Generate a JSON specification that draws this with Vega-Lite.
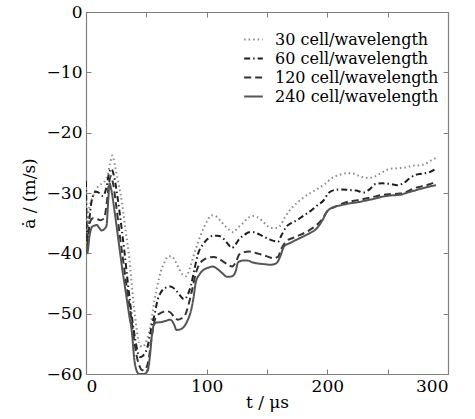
{
  "$schema": "https://vega.github.io/schema/vega-lite/v6.json",
  "width": 362,
  "height": 362,
  "autosize": {"type": "none"},
  "padding": {"left": 86, "top": 12, "right": 27, "bottom": 45},
  "background": "white",
  "config": {
    "font": "DejaVu Serif",
    "view": {"stroke": null},
    "axis": {
      "grid": false,
      "domainColor": "#808080",
      "domainWidth": 1.2,
      "tickColor": "#808080",
      "tickWidth": 1,
      "tickSize": -5,
      "labelFont": "DejaVu Serif",
      "labelFontSize": 17,
      "labelColor": "#000000",
      "titleFont": "DejaVu Serif",
      "titleFontSize": 17,
      "titleFontWeight": "normal",
      "titleColor": "#000000"
    },
    "legend": {"labelFont": "DejaVu Serif"}
  },
  "data": {
    "values": [
      {"t":0,"v":-30,"s":"30 cell/wavelength"},{"t":1,"v":-38,"s":"30 cell/wavelength"},{"t":2,"v":-33.5,"s":"30 cell/wavelength"},{"t":4,"v":-31.5,"s":"30 cell/wavelength"},{"t":6,"v":-30.5,"s":"30 cell/wavelength"},{"t":9,"v":-29.2,"s":"30 cell/wavelength"},{"t":12,"v":-28.6,"s":"30 cell/wavelength"},{"t":15,"v":-28.2,"s":"30 cell/wavelength"},{"t":18,"v":-27,"s":"30 cell/wavelength"},{"t":20,"v":-25,"s":"30 cell/wavelength"},{"t":22,"v":-23.8,"s":"30 cell/wavelength"},{"t":24,"v":-25.5,"s":"30 cell/wavelength"},{"t":27,"v":-28.5,"s":"30 cell/wavelength"},{"t":30,"v":-31.8,"s":"30 cell/wavelength"},{"t":33,"v":-36.5,"s":"30 cell/wavelength"},{"t":36,"v":-41,"s":"30 cell/wavelength"},{"t":39,"v":-47.5,"s":"30 cell/wavelength"},{"t":41,"v":-51,"s":"30 cell/wavelength"},{"t":43,"v":-54,"s":"30 cell/wavelength"},{"t":45,"v":-55.3,"s":"30 cell/wavelength"},{"t":47,"v":-55.5,"s":"30 cell/wavelength"},{"t":49,"v":-55,"s":"30 cell/wavelength"},{"t":51,"v":-54,"s":"30 cell/wavelength"},{"t":53,"v":-52.5,"s":"30 cell/wavelength"},{"t":55,"v":-50,"s":"30 cell/wavelength"},{"t":57,"v":-47.5,"s":"30 cell/wavelength"},{"t":59,"v":-45.5,"s":"30 cell/wavelength"},{"t":62,"v":-43,"s":"30 cell/wavelength"},{"t":65,"v":-41.5,"s":"30 cell/wavelength"},{"t":68,"v":-40.5,"s":"30 cell/wavelength"},{"t":71,"v":-40.5,"s":"30 cell/wavelength"},{"t":74,"v":-41.3,"s":"30 cell/wavelength"},{"t":77,"v":-42.5,"s":"30 cell/wavelength"},{"t":80,"v":-43.5,"s":"30 cell/wavelength"},{"t":83,"v":-43.8,"s":"30 cell/wavelength"},{"t":86,"v":-42.5,"s":"30 cell/wavelength"},{"t":89,"v":-40.5,"s":"30 cell/wavelength"},{"t":92,"v":-38.7,"s":"30 cell/wavelength"},{"t":96,"v":-36.5,"s":"30 cell/wavelength"},{"t":100,"v":-34.8,"s":"30 cell/wavelength"},{"t":104,"v":-33.7,"s":"30 cell/wavelength"},{"t":107,"v":-33.8,"s":"30 cell/wavelength"},{"t":110,"v":-34.3,"s":"30 cell/wavelength"},{"t":114,"v":-35.2,"s":"30 cell/wavelength"},{"t":118,"v":-36,"s":"30 cell/wavelength"},{"t":122,"v":-36.5,"s":"30 cell/wavelength"},{"t":126,"v":-35.7,"s":"30 cell/wavelength"},{"t":130,"v":-35,"s":"30 cell/wavelength"},{"t":134,"v":-34.2,"s":"30 cell/wavelength"},{"t":138,"v":-33.8,"s":"30 cell/wavelength"},{"t":142,"v":-34,"s":"30 cell/wavelength"},{"t":146,"v":-34.6,"s":"30 cell/wavelength"},{"t":150,"v":-35.4,"s":"30 cell/wavelength"},{"t":154,"v":-35.8,"s":"30 cell/wavelength"},{"t":158,"v":-35.8,"s":"30 cell/wavelength"},{"t":161,"v":-35.4,"s":"30 cell/wavelength"},{"t":165,"v":-34,"s":"30 cell/wavelength"},{"t":170,"v":-32.6,"s":"30 cell/wavelength"},{"t":175,"v":-31.6,"s":"30 cell/wavelength"},{"t":180,"v":-30.8,"s":"30 cell/wavelength"},{"t":186,"v":-30,"s":"30 cell/wavelength"},{"t":192,"v":-29.3,"s":"30 cell/wavelength"},{"t":198,"v":-28.5,"s":"30 cell/wavelength"},{"t":204,"v":-27.5,"s":"30 cell/wavelength"},{"t":210,"v":-27,"s":"30 cell/wavelength"},{"t":216,"v":-26.7,"s":"30 cell/wavelength"},{"t":222,"v":-26.8,"s":"30 cell/wavelength"},{"t":228,"v":-27.3,"s":"30 cell/wavelength"},{"t":234,"v":-27.5,"s":"30 cell/wavelength"},{"t":240,"v":-27.2,"s":"30 cell/wavelength"},{"t":246,"v":-26.5,"s":"30 cell/wavelength"},{"t":252,"v":-26,"s":"30 cell/wavelength"},{"t":258,"v":-25.9,"s":"30 cell/wavelength"},{"t":264,"v":-25.8,"s":"30 cell/wavelength"},{"t":270,"v":-25.5,"s":"30 cell/wavelength"},{"t":276,"v":-25.4,"s":"30 cell/wavelength"},{"t":282,"v":-25.1,"s":"30 cell/wavelength"},{"t":286,"v":-24.6,"s":"30 cell/wavelength"},{"t":290,"v":-24.2,"s":"30 cell/wavelength"},

      {"t":0,"v":-28,"s":"60 cell/wavelength"},{"t":1,"v":-39,"s":"60 cell/wavelength"},{"t":3,"v":-34,"s":"60 cell/wavelength"},{"t":5,"v":-31,"s":"60 cell/wavelength"},{"t":8,"v":-29.8,"s":"60 cell/wavelength"},{"t":11,"v":-30,"s":"60 cell/wavelength"},{"t":14,"v":-30.5,"s":"60 cell/wavelength"},{"t":17,"v":-29,"s":"60 cell/wavelength"},{"t":19,"v":-26.8,"s":"60 cell/wavelength"},{"t":21,"v":-26,"s":"60 cell/wavelength"},{"t":23,"v":-27,"s":"60 cell/wavelength"},{"t":26,"v":-30.5,"s":"60 cell/wavelength"},{"t":29,"v":-35,"s":"60 cell/wavelength"},{"t":32,"v":-40,"s":"60 cell/wavelength"},{"t":35,"v":-45.5,"s":"60 cell/wavelength"},{"t":38,"v":-50.5,"s":"60 cell/wavelength"},{"t":41,"v":-54.5,"s":"60 cell/wavelength"},{"t":43,"v":-56.5,"s":"60 cell/wavelength"},{"t":45,"v":-57.2,"s":"60 cell/wavelength"},{"t":47,"v":-57,"s":"60 cell/wavelength"},{"t":49,"v":-56.5,"s":"60 cell/wavelength"},{"t":51,"v":-55.5,"s":"60 cell/wavelength"},{"t":53,"v":-53.5,"s":"60 cell/wavelength"},{"t":55,"v":-51.5,"s":"60 cell/wavelength"},{"t":57,"v":-50,"s":"60 cell/wavelength"},{"t":59,"v":-48,"s":"60 cell/wavelength"},{"t":62,"v":-46.5,"s":"60 cell/wavelength"},{"t":66,"v":-45.7,"s":"60 cell/wavelength"},{"t":70,"v":-45.5,"s":"60 cell/wavelength"},{"t":74,"v":-46,"s":"60 cell/wavelength"},{"t":78,"v":-47,"s":"60 cell/wavelength"},{"t":81,"v":-47.6,"s":"60 cell/wavelength"},{"t":84,"v":-47,"s":"60 cell/wavelength"},{"t":87,"v":-45.3,"s":"60 cell/wavelength"},{"t":90,"v":-42.5,"s":"60 cell/wavelength"},{"t":93,"v":-40,"s":"60 cell/wavelength"},{"t":97,"v":-38.5,"s":"60 cell/wavelength"},{"t":101,"v":-37.6,"s":"60 cell/wavelength"},{"t":105,"v":-37.1,"s":"60 cell/wavelength"},{"t":109,"v":-37.1,"s":"60 cell/wavelength"},{"t":113,"v":-37.4,"s":"60 cell/wavelength"},{"t":117,"v":-38.3,"s":"60 cell/wavelength"},{"t":121,"v":-39.1,"s":"60 cell/wavelength"},{"t":124,"v":-38.5,"s":"60 cell/wavelength"},{"t":127,"v":-37.6,"s":"60 cell/wavelength"},{"t":131,"v":-37,"s":"60 cell/wavelength"},{"t":135,"v":-36.5,"s":"60 cell/wavelength"},{"t":139,"v":-36.5,"s":"60 cell/wavelength"},{"t":143,"v":-36.8,"s":"60 cell/wavelength"},{"t":147,"v":-37.2,"s":"60 cell/wavelength"},{"t":151,"v":-37.6,"s":"60 cell/wavelength"},{"t":155,"v":-37.9,"s":"60 cell/wavelength"},{"t":159,"v":-38.1,"s":"60 cell/wavelength"},{"t":162,"v":-37,"s":"60 cell/wavelength"},{"t":166,"v":-35.6,"s":"60 cell/wavelength"},{"t":170,"v":-35,"s":"60 cell/wavelength"},{"t":175,"v":-34.5,"s":"60 cell/wavelength"},{"t":180,"v":-33.8,"s":"60 cell/wavelength"},{"t":186,"v":-33,"s":"60 cell/wavelength"},{"t":192,"v":-32,"s":"60 cell/wavelength"},{"t":197,"v":-31.2,"s":"60 cell/wavelength"},{"t":201,"v":-30,"s":"60 cell/wavelength"},{"t":206,"v":-29.5,"s":"60 cell/wavelength"},{"t":212,"v":-29.4,"s":"60 cell/wavelength"},{"t":218,"v":-29.5,"s":"60 cell/wavelength"},{"t":224,"v":-29.6,"s":"60 cell/wavelength"},{"t":230,"v":-29.9,"s":"60 cell/wavelength"},{"t":235,"v":-29.4,"s":"60 cell/wavelength"},{"t":240,"v":-28.5,"s":"60 cell/wavelength"},{"t":246,"v":-28.4,"s":"60 cell/wavelength"},{"t":252,"v":-28.5,"s":"60 cell/wavelength"},{"t":258,"v":-28.7,"s":"60 cell/wavelength"},{"t":263,"v":-28.4,"s":"60 cell/wavelength"},{"t":268,"v":-27.6,"s":"60 cell/wavelength"},{"t":273,"v":-27,"s":"60 cell/wavelength"},{"t":278,"v":-26.8,"s":"60 cell/wavelength"},{"t":284,"v":-26.6,"s":"60 cell/wavelength"},{"t":290,"v":-26,"s":"60 cell/wavelength"},

      {"t":0,"v":-33,"s":"120 cell/wavelength"},{"t":1,"v":-39.5,"s":"120 cell/wavelength"},{"t":3,"v":-35,"s":"120 cell/wavelength"},{"t":6,"v":-34.2,"s":"120 cell/wavelength"},{"t":9,"v":-34.3,"s":"120 cell/wavelength"},{"t":12,"v":-34.5,"s":"120 cell/wavelength"},{"t":15,"v":-34.2,"s":"120 cell/wavelength"},{"t":17,"v":-32,"s":"120 cell/wavelength"},{"t":19,"v":-28.5,"s":"120 cell/wavelength"},{"t":20.5,"v":-27.2,"s":"120 cell/wavelength"},{"t":22,"v":-28,"s":"120 cell/wavelength"},{"t":25,"v":-32,"s":"120 cell/wavelength"},{"t":28,"v":-37,"s":"120 cell/wavelength"},{"t":31,"v":-41.5,"s":"120 cell/wavelength"},{"t":34,"v":-46,"s":"120 cell/wavelength"},{"t":37,"v":-50,"s":"120 cell/wavelength"},{"t":40,"v":-54.5,"s":"120 cell/wavelength"},{"t":42,"v":-57,"s":"120 cell/wavelength"},{"t":44,"v":-58.5,"s":"120 cell/wavelength"},{"t":46,"v":-59.3,"s":"120 cell/wavelength"},{"t":48,"v":-59.4,"s":"120 cell/wavelength"},{"t":50,"v":-59,"s":"120 cell/wavelength"},{"t":52,"v":-57.5,"s":"120 cell/wavelength"},{"t":54,"v":-54.5,"s":"120 cell/wavelength"},{"t":56,"v":-52,"s":"120 cell/wavelength"},{"t":58,"v":-50.5,"s":"120 cell/wavelength"},{"t":61,"v":-50,"s":"120 cell/wavelength"},{"t":64,"v":-49.7,"s":"120 cell/wavelength"},{"t":67,"v":-49.6,"s":"120 cell/wavelength"},{"t":70,"v":-49.8,"s":"120 cell/wavelength"},{"t":73,"v":-50.5,"s":"120 cell/wavelength"},{"t":76,"v":-51,"s":"120 cell/wavelength"},{"t":79,"v":-50.8,"s":"120 cell/wavelength"},{"t":82,"v":-50.3,"s":"120 cell/wavelength"},{"t":85,"v":-48.5,"s":"120 cell/wavelength"},{"t":88,"v":-46,"s":"120 cell/wavelength"},{"t":91,"v":-43.3,"s":"120 cell/wavelength"},{"t":94,"v":-41.8,"s":"120 cell/wavelength"},{"t":98,"v":-41,"s":"120 cell/wavelength"},{"t":102,"v":-40.7,"s":"120 cell/wavelength"},{"t":106,"v":-40.6,"s":"120 cell/wavelength"},{"t":110,"v":-40.9,"s":"120 cell/wavelength"},{"t":114,"v":-41.4,"s":"120 cell/wavelength"},{"t":118,"v":-41.9,"s":"120 cell/wavelength"},{"t":121,"v":-42.2,"s":"120 cell/wavelength"},{"t":124,"v":-41.5,"s":"120 cell/wavelength"},{"t":127,"v":-40.2,"s":"120 cell/wavelength"},{"t":131,"v":-39.8,"s":"120 cell/wavelength"},{"t":135,"v":-39.7,"s":"120 cell/wavelength"},{"t":140,"v":-39.9,"s":"120 cell/wavelength"},{"t":145,"v":-40.2,"s":"120 cell/wavelength"},{"t":150,"v":-40.5,"s":"120 cell/wavelength"},{"t":155,"v":-40.8,"s":"120 cell/wavelength"},{"t":159,"v":-40.6,"s":"120 cell/wavelength"},{"t":162,"v":-39.2,"s":"120 cell/wavelength"},{"t":166,"v":-38,"s":"120 cell/wavelength"},{"t":172,"v":-37.4,"s":"120 cell/wavelength"},{"t":178,"v":-36.9,"s":"120 cell/wavelength"},{"t":184,"v":-36.3,"s":"120 cell/wavelength"},{"t":190,"v":-35.5,"s":"120 cell/wavelength"},{"t":196,"v":-34.3,"s":"120 cell/wavelength"},{"t":200,"v":-33,"s":"120 cell/wavelength"},{"t":206,"v":-32.3,"s":"120 cell/wavelength"},{"t":212,"v":-31.8,"s":"120 cell/wavelength"},{"t":218,"v":-31.4,"s":"120 cell/wavelength"},{"t":225,"v":-31.2,"s":"120 cell/wavelength"},{"t":232,"v":-30.9,"s":"120 cell/wavelength"},{"t":239,"v":-30.6,"s":"120 cell/wavelength"},{"t":246,"v":-30.3,"s":"120 cell/wavelength"},{"t":253,"v":-30.2,"s":"120 cell/wavelength"},{"t":260,"v":-30.1,"s":"120 cell/wavelength"},{"t":266,"v":-29.8,"s":"120 cell/wavelength"},{"t":272,"v":-29.2,"s":"120 cell/wavelength"},{"t":278,"v":-28.9,"s":"120 cell/wavelength"},{"t":284,"v":-28.6,"s":"120 cell/wavelength"},{"t":290,"v":-28.1,"s":"120 cell/wavelength"},

      {"t":0,"v":-38.5,"s":"240 cell/wavelength"},{"t":1,"v":-40,"s":"240 cell/wavelength"},{"t":3,"v":-37,"s":"240 cell/wavelength"},{"t":5,"v":-35.6,"s":"240 cell/wavelength"},{"t":7,"v":-35.4,"s":"240 cell/wavelength"},{"t":9,"v":-35.3,"s":"240 cell/wavelength"},{"t":11,"v":-35.8,"s":"240 cell/wavelength"},{"t":13,"v":-36.2,"s":"240 cell/wavelength"},{"t":15,"v":-36,"s":"240 cell/wavelength"},{"t":17,"v":-35.4,"s":"240 cell/wavelength"},{"t":18.5,"v":-31,"s":"240 cell/wavelength"},{"t":19.5,"v":-28.4,"s":"240 cell/wavelength"},{"t":21,"v":-29.5,"s":"240 cell/wavelength"},{"t":24,"v":-33.5,"s":"240 cell/wavelength"},{"t":27,"v":-38,"s":"240 cell/wavelength"},{"t":30,"v":-42.5,"s":"240 cell/wavelength"},{"t":33,"v":-46.5,"s":"240 cell/wavelength"},{"t":36,"v":-50.5,"s":"240 cell/wavelength"},{"t":38,"v":-53,"s":"240 cell/wavelength"},{"t":40,"v":-57.5,"s":"240 cell/wavelength"},{"t":42,"v":-59.5,"s":"240 cell/wavelength"},{"t":44,"v":-60,"s":"240 cell/wavelength"},{"t":48,"v":-60,"s":"240 cell/wavelength"},{"t":51,"v":-59.5,"s":"240 cell/wavelength"},{"t":53,"v":-57,"s":"240 cell/wavelength"},{"t":54.5,"v":-53.8,"s":"240 cell/wavelength"},{"t":56,"v":-52,"s":"240 cell/wavelength"},{"t":58,"v":-51.5,"s":"240 cell/wavelength"},{"t":62,"v":-51.4,"s":"240 cell/wavelength"},{"t":66,"v":-51.2,"s":"240 cell/wavelength"},{"t":70,"v":-51,"s":"240 cell/wavelength"},{"t":73,"v":-51.8,"s":"240 cell/wavelength"},{"t":75,"v":-52.7,"s":"240 cell/wavelength"},{"t":78,"v":-52.6,"s":"240 cell/wavelength"},{"t":81,"v":-52.2,"s":"240 cell/wavelength"},{"t":84,"v":-51.2,"s":"240 cell/wavelength"},{"t":87,"v":-49.5,"s":"240 cell/wavelength"},{"t":89,"v":-47.5,"s":"240 cell/wavelength"},{"t":91,"v":-44.8,"s":"240 cell/wavelength"},{"t":94,"v":-43.5,"s":"240 cell/wavelength"},{"t":97,"v":-42.8,"s":"240 cell/wavelength"},{"t":101,"v":-42.4,"s":"240 cell/wavelength"},{"t":105,"v":-42.2,"s":"240 cell/wavelength"},{"t":109,"v":-42.6,"s":"240 cell/wavelength"},{"t":113,"v":-43.3,"s":"240 cell/wavelength"},{"t":117,"v":-43.9,"s":"240 cell/wavelength"},{"t":121,"v":-43.8,"s":"240 cell/wavelength"},{"t":124,"v":-43,"s":"240 cell/wavelength"},{"t":126,"v":-41.5,"s":"240 cell/wavelength"},{"t":130,"v":-41.2,"s":"240 cell/wavelength"},{"t":134,"v":-41.2,"s":"240 cell/wavelength"},{"t":138,"v":-41.5,"s":"240 cell/wavelength"},{"t":143,"v":-41.7,"s":"240 cell/wavelength"},{"t":148,"v":-41.8,"s":"240 cell/wavelength"},{"t":153,"v":-41.9,"s":"240 cell/wavelength"},{"t":158,"v":-41.6,"s":"240 cell/wavelength"},{"t":161,"v":-40.5,"s":"240 cell/wavelength"},{"t":164,"v":-38.9,"s":"240 cell/wavelength"},{"t":170,"v":-38.2,"s":"240 cell/wavelength"},{"t":177,"v":-37.5,"s":"240 cell/wavelength"},{"t":184,"v":-36.8,"s":"240 cell/wavelength"},{"t":191,"v":-35.9,"s":"240 cell/wavelength"},{"t":196,"v":-34.5,"s":"240 cell/wavelength"},{"t":200,"v":-33,"s":"240 cell/wavelength"},{"t":206,"v":-32.3,"s":"240 cell/wavelength"},{"t":212,"v":-32,"s":"240 cell/wavelength"},{"t":219,"v":-31.7,"s":"240 cell/wavelength"},{"t":226,"v":-31.5,"s":"240 cell/wavelength"},{"t":233,"v":-31.2,"s":"240 cell/wavelength"},{"t":240,"v":-30.9,"s":"240 cell/wavelength"},{"t":246,"v":-30.6,"s":"240 cell/wavelength"},{"t":253,"v":-30.4,"s":"240 cell/wavelength"},{"t":260,"v":-30.3,"s":"240 cell/wavelength"},{"t":267,"v":-29.9,"s":"240 cell/wavelength"},{"t":274,"v":-29.5,"s":"240 cell/wavelength"},{"t":281,"v":-29.1,"s":"240 cell/wavelength"},{"t":290,"v":-28.7,"s":"240 cell/wavelength"}
    ]
  },
  "layer": [
    {
      "mark": {"type": "line", "clip": true, "strokeWidth": 2, "interpolate": "monotone"},
      "encoding": {
        "x": {
          "field": "t", "type": "quantitative",
          "scale": {"domain": [0, 300], "nice": false},
          "axis": {
            "orient": "bottom",
            "values": [0, 50, 100, 150, 200, 250, 300],
            "labelExpr": "datum.value % 100 == 0 ? datum.label : ''",
            "labelPadding": 9,
            "title": "t / μs",
            "titlePadding": 0
          }
        },
        "y": {
          "field": "v", "type": "quantitative",
          "scale": {"domain": [-60, 0], "nice": false, "zero": false},
          "axis": {
            "orient": "left",
            "values": [-60, -50, -40, -30, -20, -10, 0],
            "labelPadding": 9,
            "title": "ȧ / (m/s)",
            "titlePadding": 8
          }
        },
        "color": {
          "field": "s", "type": "nominal",
          "scale": {
            "domain": ["30 cell/wavelength", "60 cell/wavelength", "120 cell/wavelength", "240 cell/wavelength"],
            "range": ["#8a8a8a", "#1e1e1e", "#333333", "#555555"]
          },
          "legend": {
            "title": null,
            "orient": "none",
            "legendX": 157,
            "legendY": 17,
            "symbolType": "stroke",
            "symbolSize": 350,
            "symbolStrokeWidth": 2,
            "labelFont": "DejaVu Serif",
            "labelFontSize": 16,
            "labelColor": "#000000",
            "rowPadding": 0,
            "labelOffset": 11,
            "labelLimit": 300
          }
        },
        "strokeDash": {
          "field": "s", "type": "nominal",
          "scale": {
            "domain": ["30 cell/wavelength", "60 cell/wavelength", "120 cell/wavelength", "240 cell/wavelength"],
            "range": [[1.5, 3], [6, 3, 1.5, 3], [7, 4], [1, 0]]
          },
          "legend": {
            "title": null,
            "orient": "none",
            "legendX": 157,
            "legendY": 17,
            "symbolType": "stroke",
            "symbolSize": 350,
            "symbolStrokeWidth": 2,
            "labelFont": "DejaVu Serif",
            "labelFontSize": 16,
            "labelColor": "#000000",
            "rowPadding": 0,
            "labelOffset": 11,
            "labelLimit": 300
          }
        }
      }
    },
    {
      "mark": {"type": "point", "opacity": 0},
      "encoding": {
        "x": {
          "field": "t", "type": "quantitative",
          "scale": {"domain": [0, 300], "nice": false},
          "axis": {"orient": "top", "values": [0, 50, 100, 150, 200, 250, 300], "labels": false, "title": null}
        },
        "y": {
          "field": "v", "type": "quantitative",
          "scale": {"domain": [-60, 0], "nice": false, "zero": false},
          "axis": {"orient": "right", "values": [-60, -50, -40, -30, -20, -10, 0], "labels": false, "title": null}
        }
      }
    }
  ],
  "resolve": {"axis": {"x": "independent", "y": "independent"}}
}
